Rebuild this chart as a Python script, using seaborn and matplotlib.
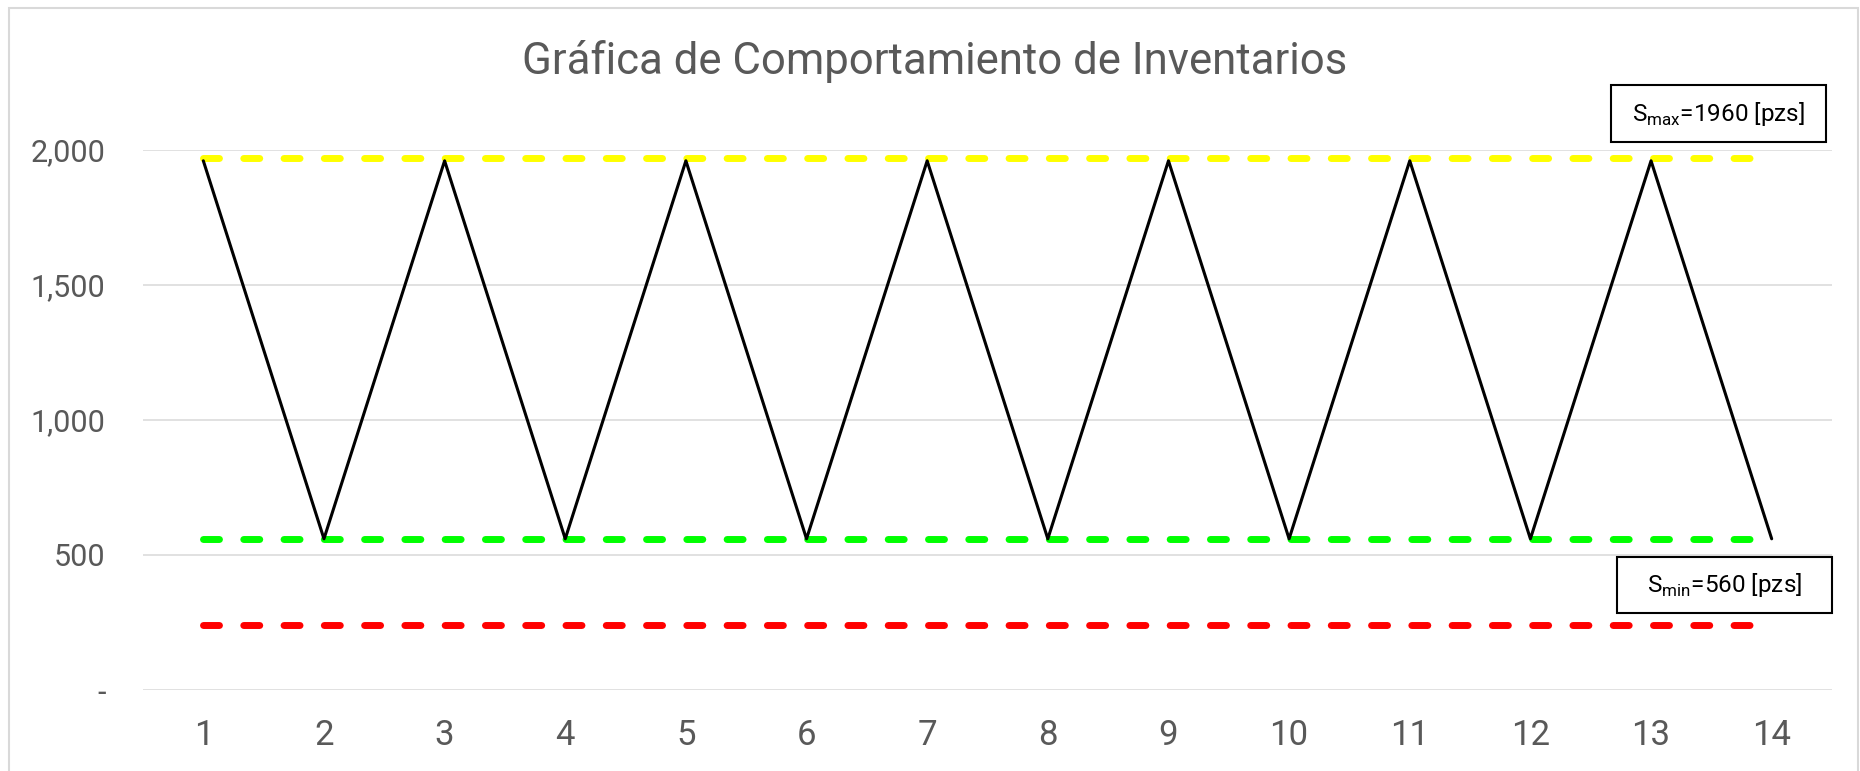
import matplotlib
matplotlib.use("Agg")
import matplotlib.pyplot as plt
from matplotlib.patches import Rectangle
import seaborn as sns

# datos
periodos = [1, 2, 3, 4, 5, 6, 7, 8, 9, 10, 11, 12, 13, 14]
inventario = [1960, 560, 1960, 560, 1960, 560, 1960, 560, 1960, 560, 1960, 560, 1960, 560]
linea_max = [1970, 1970, 1970, 1970, 1970, 1970, 1970, 1970, 1970, 1970, 1970, 1970, 1970, 1970]
linea_min = [560, 560, 560, 560, 560, 560, 560, 560, 560, 560, 560, 560, 560, 560]
linea_seg = [240, 240, 240, 240, 240, 240, 240, 240, 240, 240, 240, 240, 240, 240]
y_ticks = [0, 500, 1000, 1500, 2000]
y_labels = ["-", "500", "1,000", "1,500", "2,000"]
titulo = "Gráfica de Comportamiento de Inventarios"
txt_max = r"S$_{\mathrm{max}}$=1960 [pzs]"
txt_min = r"S$_{\mathrm{min}}$=560 [pzs]"

sns.set_style("white")
plt.rcParams['font.family'] = ['Roboto', 'DejaVu Sans']
plt.rcParams['mathtext.fontset'] = 'custom'
plt.rcParams['mathtext.rm'] = 'Roboto'

W, H = 1860, 771
gris = "#595959"
grid = "#D9D9D9"

fig = plt.figure(figsize=(W / 100, H / 100), dpi=100)
ax = fig.add_axes([143 / W, 1 - 690 / H, (1832 - 143) / W, 540 / H])

# marco del grafico
fig.patches.append(Rectangle((9 / W, -0.05), (1858 - 9) / W, 1 - 8 / H + 0.05,
                             transform=fig.transFigure, fill=False,
                             edgecolor=grid, lw=1.5))

patron = (0, (2.3, 3.5))
sns.lineplot(x=periodos, y=linea_max, ax=ax, color="#FFFF00", lw=5,
             linestyle=patron, dash_capstyle="round")
sns.lineplot(x=periodos, y=linea_min, ax=ax, color="#00FF00", lw=5,
             linestyle=patron, dash_capstyle="round")
sns.lineplot(x=periodos, y=linea_seg, ax=ax, color="#FF0000", lw=5,
             linestyle=patron, dash_capstyle="round")
sns.lineplot(x=periodos, y=inventario, ax=ax, color="black", lw=2.2)

ax.set_xlim(0.5, 14.5)
ax.set_ylim(0, 2000)
ax.set_xticks(periodos)
ax.set_xticklabels([str(p) for p in periodos], fontsize=25, color=gris)
ax.set_yticks(y_ticks)
ax.set_yticklabels(y_labels, fontsize=22, color=gris)
ax.tick_params(axis='x', length=0, pad=21)
ax.tick_params(axis='y', length=0, pad=27)
ax.grid(axis='y', color=grid, lw=1.1)
ax.grid(axis='x', visible=False)
for s in ax.spines.values():
    s.set_visible(False)
ax.set_xlabel("")
ax.set_ylabel("")

fig.text(935 / W, 1 - 74 / H, titulo, ha='center', va='baseline',
         fontsize=31.5, color=gris)


def caja(x0, y0, x1, y1, texto):
    fig.patches.append(Rectangle((x0 / W, 1 - y1 / H), (x1 - x0) / W, (y1 - y0) / H,
                                 transform=fig.transFigure, facecolor="white",
                                 edgecolor="black", lw=1.5, zorder=5))
    fig.text((x0 + x1) / 2 / W, 1 - (y0 + y1) / 2 / H, texto, ha='center',
             va='center', fontsize=17.5, color="black", zorder=6)


caja(1611, 85, 1826, 142, txt_max)
caja(1617, 557, 1832, 613, txt_min)

fig.savefig("out.png", dpi=100)
